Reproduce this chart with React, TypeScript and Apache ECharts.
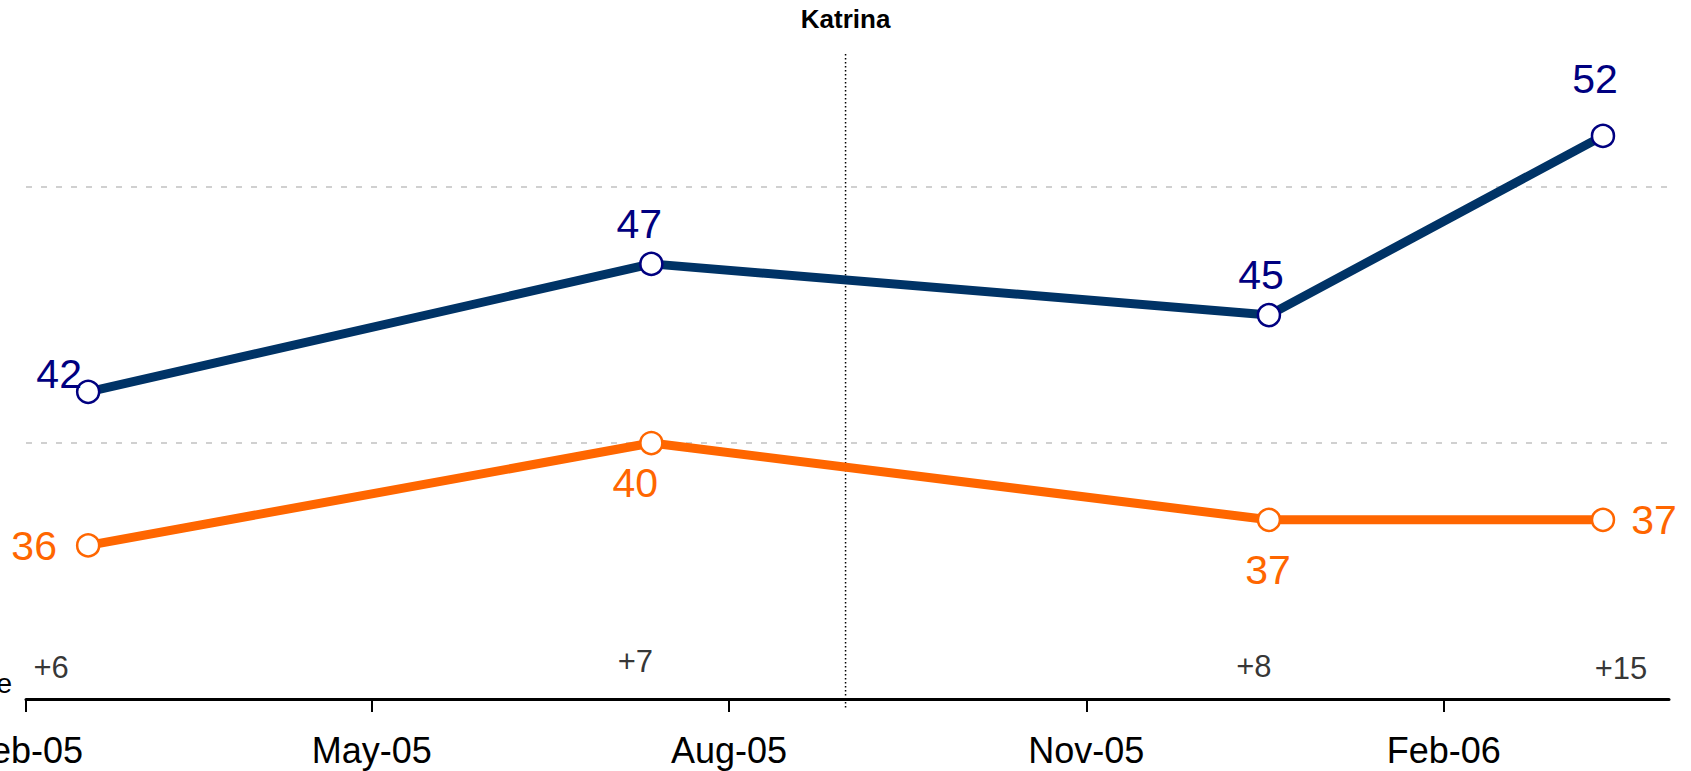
import React, { useEffect, useRef } from 'react';
import * as echarts from 'echarts';

// ---- data ----
const surveyDates = ['2005-02-17', '2005-07-12', '2005-12-18', '2006-03-14'];
const democrats = [42, 47, 45, 52];
const republicans = [36, 40, 37, 37];
const gapLabels = ['+6', '+7', '+8', '+15'];
const tickDates = ['2005-02-01', '2005-05-01', '2005-08-01', '2005-11-01', '2006-02-01'];
const monthNames = ['Jan', 'Feb', 'Mar', 'Apr', 'May', 'Jun', 'Jul', 'Aug', 'Sep', 'Oct', 'Nov', 'Dec'];
const katrinaDate = '2005-08-31';
const katrinaLabel = 'Katrina';
const sideLabel = 'Dem advantage';
const axisStart = '2005-02-01';
const axisEnd = '2006-03-31';
const yMin = 30;
const yMax = 55.2;
const yStep = 10;

// ---- label placement (styling) ----
const demOffsets = [[-29, -18], [-12, -40], [-8, -40], [-8, -57]];
const repOffsets = [[-54, 1], [-16, 40], [-1, 50], [51, 0]];
const gapOffsets = [[-37, -32], [-16, -38], [-15, -33], [18, -31]];

const FONT = "'Liberation Sans', Arial, sans-serif";
const ts = (d: string) => Date.parse(d + 'T00:00:00Z');
const fmtDate = (v: number) => {
  const d = new Date(v);
  return `${monthNames[d.getUTCMonth()]}-${String(d.getUTCFullYear()).slice(2)}`;
};

export default function App() {
  const ref = useRef<HTMLDivElement>(null);
  useEffect(() => {
    if (!ref.current) return;
    const chart = echarts.init(ref.current, undefined, { renderer: 'svg' });
    const ticks = tickDates.map(ts);
    chart.setOption({
      animation: false,
      backgroundColor: '#ffffff',
      grid: { left: 26, right: 22, top: 54, bottom: 72, containLabel: false, outerBoundsMode: 'none' },
      xAxis: {
        type: 'value',
        min: ts(axisStart),
        max: ts(axisEnd),
        axisLine: { show: true, lineStyle: { color: '#000', width: 3 } },
        axisTick: { show: true, customValues: ticks, length: 13, lineStyle: { color: '#000', width: 2 } },
        axisLabel: {
          show: true,
          customValues: ticks,
          formatter: (v: number) => fmtDate(v),
          fontSize: 36,
          fontFamily: FONT,
          color: '#000',
          margin: 33,
          hideOverlap: false,
          showMinLabel: true,
          showMaxLabel: true,
        },
        splitLine: { show: false },
      },
      yAxis: {
        type: 'value',
        min: yMin,
        max: yMax,
        interval: yStep,
        axisLine: { show: false },
        axisTick: { show: false },
        axisLabel: { show: false },
        splitLine: {
          show: true,
          showMinLine: false,
          showMaxLine: false,
          lineStyle: { color: '#d0d0d0', type: [6, 9], width: 2 },
        },
      },
      series: [
        {
          name: 'Democrats',
          type: 'line',
          z: 4,
          data: surveyDates.map((d, i) => ({
            value: [ts(d), democrats[i]],
            label: { offset: demOffsets[i] },
          })),
          symbol: 'circle',
          symbolSize: 22,
          lineStyle: { color: '#003366', width: 9 },
          itemStyle: { color: '#ffffff', borderColor: '#000080', borderWidth: 2.5 },
          label: {
            show: true,
            position: 'inside',
            color: '#000080',
            fontSize: 41,
            fontFamily: FONT,
            formatter: (p: any) => String(p.value[1]),
          },
        },
        {
          name: 'Republicans',
          type: 'line',
          z: 4,
          data: surveyDates.map((d, i) => ({
            value: [ts(d), republicans[i]],
            label: { offset: repOffsets[i] },
          })),
          symbol: 'circle',
          symbolSize: 22,
          lineStyle: { color: '#ff6600', width: 9 },
          itemStyle: { color: '#ffffff', borderColor: '#ff6600', borderWidth: 2.5 },
          label: {
            show: true,
            position: 'inside',
            color: '#ff6600',
            fontSize: 41,
            fontFamily: FONT,
            formatter: (p: any) => String(p.value[1]),
          },
        },
        {
          name: 'Gap',
          type: 'scatter',
          z: 3,
          clip: false,
          symbolSize: 1,
          itemStyle: { color: 'rgba(0,0,0,0)' },
          data: surveyDates.map((d, i) => ({
            value: [ts(d), yMin],
            name: gapLabels[i],
            label: { offset: gapOffsets[i] },
          })),
          label: {
            show: true,
            position: 'inside',
            color: '#000',
            fontSize: 31,
            fontFamily: FONT,
            formatter: (p: any) => p.name,
          },
        },
      ],
    });

    // Katrina marker line, positioned through the chart's own scales
    const top = chart.convertToPixel({ gridIndex: 0 }, [ts(katrinaDate), yMax]) as number[];
    const bottom = chart.convertToPixel({ gridIndex: 0 }, [ts(katrinaDate), yMin]) as number[];
    chart.setOption({
      graphic: [
        {
          type: 'line',
          silent: true,
          shape: { x1: top[0], y1: top[1], x2: bottom[0], y2: bottom[1] + 9 },
          style: { stroke: '#000', lineWidth: 1.5, lineDash: [1.5, 2.5] },
          z: 2,
        },
        {
          type: 'text',
          silent: true,
          x: top[0],
          y: top[1] - 22,
          style: {
            text: katrinaLabel,
            align: 'center',
            verticalAlign: 'bottom',
            fontSize: 26,
            fontWeight: 'bold',
            fontFamily: FONT,
            fill: '#000',
          },
        },
        {
          type: 'text',
          silent: true,
          x: 12,
          y: 683,
          style: {
            text: sideLabel,
            align: 'right',
            verticalAlign: 'middle',
            fontSize: 28,
            fontFamily: FONT,
            fill: '#000',
          },
        },
      ],
    });
    return () => chart.dispose();
  }, []);
  return <div ref={ref} style={{ position: 'fixed', left: 0, top: 0, width: 1691, height: 771 }} />;
}
